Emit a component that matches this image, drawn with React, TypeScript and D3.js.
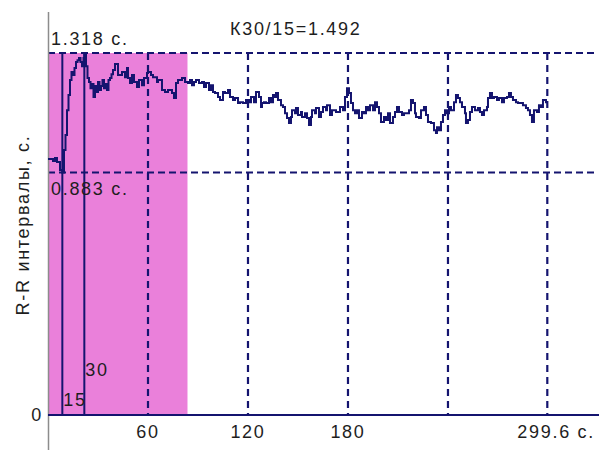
import { useEffect, useRef } from 'react';
import * as d3 from 'd3';

// R-R intervalogram: [time, s ; R-R interval, s]
const rrSeries: [number, number][] = [
    [0, 0.932], [1.8, 0.932], [3.0, 0.925], [4.2, 0.936], [5.4, 0.921], [7.2, 0.892],
    [8.6, 0.883], [9.6, 0.965], [10.5, 1.019], [11.4, 1.110], [12.3, 1.165], [13.2, 1.220],
    [14.1, 1.249], [15.0, 1.238], [15.9, 1.263], [16.8, 1.285], [17.7, 1.292], [18.6, 1.300],
    [19.5, 1.285], [20.4, 1.270], [21.3, 1.300], [21.8, 1.318], [22.8, 1.270], [23.7, 1.227],
    [24.6, 1.212], [25.5, 1.190], [26.4, 1.205], [27.3, 1.158], [28.2, 1.198], [29.1, 1.176],
    [30.0, 1.212], [30.9, 1.183], [31.8, 1.198], [32.7, 1.220], [33.6, 1.190], [34.5, 1.205],
    [35.4, 1.183], [36.3, 1.220], [37.2, 1.227], [38.1, 1.241], [39.0, 1.256], [40.2, 1.278],
    [42.0, 1.238], [44.4, 1.249], [46.2, 1.230], [47.4, 1.263], [48.0, 1.227], [49.2, 1.209],
    [50.4, 1.238], [51.6, 1.212], [53.4, 1.194], [54.6, 1.220], [56.4, 1.201], [57.6, 1.227],
    [59.4, 1.245], [60.0, 1.249], [61.8, 1.238], [63.0, 1.230], [65.4, 1.212], [66.0, 1.220],
    [68.4, 1.183], [70.2, 1.176], [72.0, 1.183], [74.4, 1.172], [75.6, 1.154], [76.8, 1.209],
    [78.0, 1.220], [80.4, 1.227], [82.2, 1.212], [84.0, 1.209], [85.2, 1.220], [86.4, 1.201],
    [87.6, 1.212], [88.8, 1.220], [90.6, 1.209], [92.4, 1.212], [93.6, 1.194], [94.8, 1.209],
    [96.6, 1.183], [97.8, 1.201], [99.0, 1.176], [100.2, 1.172], [102.0, 1.158], [103.2, 1.147],
    [105.0, 1.176], [106.2, 1.172], [108.0, 1.183], [109.2, 1.158], [111.0, 1.147], [112.2, 1.154],
    [114.0, 1.136], [115.2, 1.139], [117.0, 1.136], [118.8, 1.147], [120.6, 1.139], [121.8, 1.158],
    [123.6, 1.139], [124.8, 1.176], [126.6, 1.158], [127.8, 1.121], [128.4, 1.136], [129.6, 1.139],
    [130.8, 1.136], [132.6, 1.154], [133.8, 1.139], [135.0, 1.165], [136.2, 1.158], [136.8, 1.172],
    [138.0, 1.147], [139.8, 1.128], [141.0, 1.121], [142.2, 1.099], [143.4, 1.081], [144.6, 1.063],
    [145.8, 1.085], [146.4, 1.110], [148.2, 1.099], [148.8, 1.118], [150.0, 1.092], [151.8, 1.103],
    [152.4, 1.085], [154.2, 1.099], [155.4, 1.081], [156.6, 1.056], [157.8, 1.085], [158.4, 1.110],
    [160.2, 1.099], [160.8, 1.118], [162.6, 1.085], [163.8, 1.103], [165.0, 1.121], [166.8, 1.110],
    [167.4, 1.128], [169.2, 1.092], [170.4, 1.110], [171.6, 1.110], [172.8, 1.103], [174.0, 1.103],
    [175.2, 1.121], [177.0, 1.110], [178.2, 1.158], [179.4, 1.190], [180.6, 1.172], [181.8, 1.136],
    [183.0, 1.110], [184.2, 1.099], [185.4, 1.110], [186.6, 1.081], [188.4, 1.103], [189.6, 1.099],
    [190.8, 1.121], [192.0, 1.110], [193.2, 1.128], [195.0, 1.110], [196.2, 1.139], [197.4, 1.121],
    [198.6, 1.099], [199.8, 1.067], [201.6, 1.085], [202.8, 1.074], [204.0, 1.099], [205.2, 1.063],
    [207.0, 1.085], [208.2, 1.103], [209.4, 1.121], [210.6, 1.103], [212.4, 1.092], [213.6, 1.099],
    [214.8, 1.099], [216.6, 1.110], [217.8, 1.147], [219.0, 1.136], [220.2, 1.099], [220.8, 1.085],
    [222.6, 1.081], [223.8, 1.110], [225.6, 1.121], [226.8, 1.092], [228.0, 1.067], [229.8, 1.063],
    [231.6, 1.037], [232.8, 1.027], [233.4, 1.048], [234.6, 1.037], [235.8, 1.067], [237.0, 1.092],
    [238.2, 1.110], [239.4, 1.099], [240.6, 1.121], [241.8, 1.110], [243.6, 1.139], [244.8, 1.165],
    [246.0, 1.154], [247.2, 1.139], [248.4, 1.121], [250.2, 1.099], [250.8, 1.063], [252.0, 1.074],
    [253.2, 1.103], [254.4, 1.121], [256.2, 1.110], [258.0, 1.118], [259.2, 1.103], [260.4, 1.092],
    [261.6, 1.110], [263.4, 1.121], [264.0, 1.154], [265.2, 1.172], [266.4, 1.154], [267.6, 1.158],
    [269.4, 1.147], [270.6, 1.154], [272.4, 1.139], [273.6, 1.154], [275.4, 1.158], [276.6, 1.172],
    [277.8, 1.158], [279.0, 1.147], [280.8, 1.139], [282.0, 1.136], [283.8, 1.136], [285.0, 1.128],
    [286.8, 1.118], [288.0, 1.110], [289.2, 1.092], [290.4, 1.067], [291.6, 1.110], [293.4, 1.103],
    [294.6, 1.128], [295.8, 1.121], [297.0, 1.147], [298.8, 1.139], [299.6, 1.139],
];

const xTicks = [60, 120, 180, 240, 299.6];
const xTickLabels = ['60', '120', '180', '', '299.6 с.'];
const rrLevels = [1.318, 0.883];
const rrLevelLabels = ['1.318 с.', '0.883 с.'];
const beatMarks = [8.6, 21.8];
const beatMarkLabels = ['15', '30'];
const highlightEnd = 83.7;
const totalTime = 299.6;
const title = 'К30/15=1.492';
const yLabel = 'R-R интервалы, с.';

const App = () => {
    const svgRef = useRef<SVGSVGElement>(null);

    useEffect(() => {
        if (!svgRef.current) return;
        d3.select(svgRef.current).selectAll('*').remove();

        const width = 599;
        const height = 450;
        const navy = '#14146f';
        const ink = '#1e1e1e';
        const font = '"Liberation Sans", Arial, sans-serif';

        const svg = d3.select(svgRef.current)
            .attr('width', width)
            .attr('height', height);

        const x = d3.scaleLinear().domain([0, totalTime]).range([48, 547.3]);
        const y = d3.scaleLinear().domain([0, rrLevels[0]]).range([415, 53]);
        const top = y(rrLevels[0]);

        // розовая зона
        svg.append('rect')
            .attr('x', x(0))
            .attr('y', top)
            .attr('width', x(highlightEnd) - x(0))
            .attr('height', y(0) - top)
            .attr('fill', '#ea80da');

        // пунктирные вертикали
        svg.selectAll('.vgrid')
            .data(xTicks)
            .enter()
            .append('line')
            .attr('x1', d => x(d))
            .attr('x2', d => x(d))
            .attr('y1', top)
            .attr('y2', y(0))
            .attr('stroke', navy)
            .attr('stroke-width', 2.2)
            .attr('stroke-dasharray', '7,5');

        // пунктирные горизонтали
        svg.selectAll('.hgrid')
            .data(rrLevels)
            .enter()
            .append('line')
            .attr('x1', x(0))
            .attr('x2', 598)
            .attr('y1', d => y(d))
            .attr('y2', d => y(d))
            .attr('stroke', navy)
            .attr('stroke-width', 2)
            .attr('stroke-dasharray', '7,4');

        // отметки 15 и 30 ударов
        svg.selectAll('.beat')
            .data(beatMarks)
            .enter()
            .append('line')
            .attr('x1', d => x(d))
            .attr('x2', d => x(d))
            .attr('y1', top)
            .attr('y2', y(0))
            .attr('stroke', navy)
            .attr('stroke-width', 2);

        // оси
        svg.append('line')
            .attr('x1', 48.5).attr('x2', 48.5)
            .attr('y1', 12).attr('y2', height)
            .attr('stroke', '#8c8c8c')
            .attr('stroke-width', 1.5);

        svg.append('line')
            .attr('x1', 48).attr('x2', width)
            .attr('y1', y(0)).attr('y2', y(0))
            .attr('stroke', navy)
            .attr('stroke-width', 2);

        // кривая R-R
        const line = d3.line<[number, number]>()
            .x(d => x(d[0]))
            .y(d => y(d[1]))
            .curve(d3.curveStepAfter);

        svg.append('path')
            .datum(rrSeries)
            .attr('d', line)
            .attr('fill', 'none')
            .attr('stroke', navy)
            .attr('stroke-width', 2);

        const text = (tx: number, ty: number, s: string, anchor = 'start') =>
            svg.append('text')
                .attr('x', tx)
                .attr('y', ty)
                .attr('text-anchor', anchor)
                .attr('font-family', font)
                .attr('font-size', 18)
                .attr('letter-spacing', 1.7)
                .attr('fill', ink)
                .text(s);

        // подписи оси X
        xTicks.forEach((t, i) => {
            if (!xTickLabels[i]) return;
            if (i === xTicks.length - 1) text(x(t) - 30, 438, xTickLabels[i]);
            else text(x(t), 438, xTickLabels[i], 'middle');
        });
        text(43, 421, '0', 'end');

        text(51, 45, rrLevelLabels[0]);
        text(51, 195, rrLevelLabels[1]);
        text(x(beatMarks[0]) + 1, 406, beatMarkLabels[0]);
        text(x(beatMarks[1]) + 1, 376, beatMarkLabels[1]);
        text(230, 35, title);

        text(0, 0, yLabel, 'middle')
            .attr('transform', 'translate(29,225) rotate(-90)');
    }, []);

    return (
        <svg ref={svgRef} style={{ position: 'absolute', left: 0, top: 0, display: 'block', background: '#fff' }}></svg>
    );
};

export default App;
